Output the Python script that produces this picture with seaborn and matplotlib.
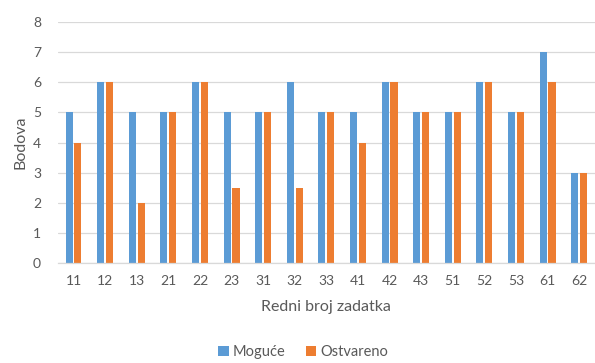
import matplotlib
matplotlib.use("Agg")
import matplotlib.pyplot as plt
import seaborn as sns
import pandas as pd

# Task numbers and points per task
zadaci = ["11", "12", "13", "21", "22", "23", "31", "32", "33",
          "41", "42", "43", "51", "52", "53", "61", "62"]
moguce = [5, 6, 5, 5, 6, 5, 5, 6, 5, 5, 6, 5, 5, 6, 5, 7, 3]
ostvareno = [4, 6, 2, 5, 6, 2.5, 5, 2.5, 5, 4, 6, 5, 5, 6, 5, 6, 3]
serije = ["Moguće", "Ostvareno"]
boje = ["#5B9BD5", "#ED7D31"]
y_ticks = [0, 1, 2, 3, 4, 5, 6, 7, 8]

df = pd.DataFrame({
    "zadatak": zadaci * 2,
    "bodovi": moguce + ostvareno,
    "serija": [serije[0]] * len(zadaci) + [serije[1]] * len(zadaci),
})

sns.set_theme(style="white")
plt.rcParams["font.family"] = ["Lato", "DejaVu Sans"]
text_color = "#595959"

fig = plt.figure(figsize=(5.95, 3.63), dpi=100)
ax = fig.add_axes([0.097, 0.2755, 0.903, 0.6635])

sns.barplot(data=df, x="zadatak", y="bodovi", hue="serija", order=zadaci,
            hue_order=serije, palette=boje, width=0.56, gap=0.2,
            saturation=1, ax=ax, legend=True, edgecolor="none")

ax.set_ylim(0, 8)
ax.set_yticks(y_ticks)
ax.set_xlim(-0.5, len(zadaci) - 0.5)
ax.yaxis.grid(True, color="#D9D9D9", linewidth=0.9)
ax.set_axisbelow(True)
for side in ["top", "right", "left"]:
    ax.spines[side].set_visible(False)
ax.spines["bottom"].set_color("#D9D9D9")
ax.spines["bottom"].set_linewidth(0.9)

ax.tick_params(axis="both", length=0, labelsize=10, colors=text_color)
ax.tick_params(axis="x", pad=9)
ax.tick_params(axis="y", pad=12)
ax.set_xlabel("Redni broj zadatka", fontsize=11.5, color=text_color, labelpad=9)
ax.set_ylabel("Bodova", fontsize=11.5, color=text_color, labelpad=4)

handles, labels = ax.get_legend_handles_labels()
ax.get_legend().remove()
fig.legend(handles, labels, loc="center", bbox_to_anchor=(0.51, 0.03),
           ncol=2, frameon=False, fontsize=10.5, handlelength=0.7,
           handleheight=0.7, handletextpad=0.3, columnspacing=1.4,
           labelcolor=text_color)

fig.savefig("out.png", dpi=100)
